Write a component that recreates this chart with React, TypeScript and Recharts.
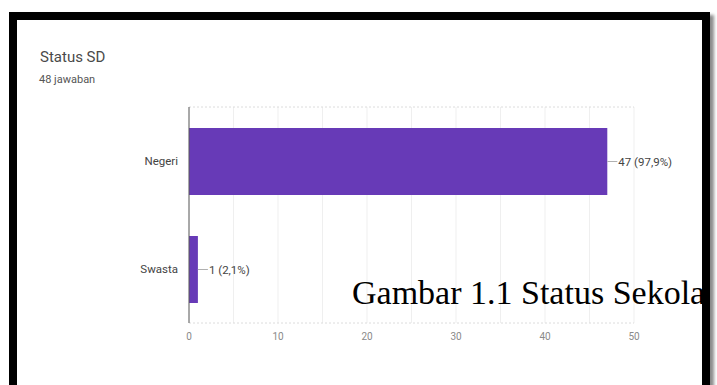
import React from 'react';
import { BarChart, Bar, XAxis, YAxis, CartesianGrid, LabelList } from 'recharts';

const categories = ['Negeri', 'Swasta'];
const counts = [47, 1];
const xTicks = [0, 5, 10, 15, 20, 25, 30, 35, 40, 45, 50];

const total = counts.reduce((a, b) => a + b, 0);
const data = categories.map((name, i) => ({ name, count: counts[i] }));

// percentage with a decimal comma, e.g. 97,9
const pct = (v: number) => ((v / total) * 100).toFixed(1).replace('.', ',');

const FONT = 'Roboto, Arial, sans-serif';

function ValueLabel(props: any) {
  const { x, y, width, height, value } = props;
  const x0 = x + width;
  const cy = y + height / 2;
  return (
    <g>
      <line x1={x0} y1={cy} x2={x0 + 10} y2={cy} stroke="#b0b0b0" />
      <text x={x0 + 11} y={cy} dy="0.36em" fill="#444" fontSize={11.5} fontFamily={FONT}>
        {`${value} (${pct(value)}%)`}
      </text>
    </g>
  );
}

// only every other grid position carries a label
function XTick({ x, y, payload }: any) {
  if (payload.value % 10 !== 0) return <g />;
  return (
    <text x={x} y={y} dy="0.71em" textAnchor="middle" fill="#8a8a8a" fontSize={10} fontFamily={FONT}>
      {payload.value}
    </text>
  );
}

export default function App() {
  return (
    <div style={{ position: 'absolute', left: 0, top: 0, width: 717, height: 385, overflow: 'hidden', background: '#fff' }}>
      <div style={{ position: 'absolute', left: 40, top: 50, fontFamily: FONT, fontSize: 15, lineHeight: '15px', color: '#4a4a4a' }}>
        Status SD
      </div>
      <div style={{ position: 'absolute', left: 39, top: 74, fontFamily: FONT, fontSize: 11, lineHeight: '11px', color: '#555' }}>
        48 jawaban
      </div>

      <div style={{ position: 'absolute', left: 0, top: 0 }}>
        <BarChart
          width={717}
          height={385}
          data={data}
          layout="vertical"
          margin={{ top: 107, right: 83, left: 0, bottom: 32 }}
        >
          <CartesianGrid vertical horizontal={false} stroke="#efefef" />
          <CartesianGrid
            vertical={false}
            stroke="#dcdcdc"
            strokeDasharray="2 2"
            horizontalCoordinatesGenerator={({ offset }: any) => [offset.top, offset.top + offset.height]}
          />
          <XAxis
            type="number"
            domain={[0, 50]}
            ticks={xTicks}
            axisLine={false}
            tickLine={false}
            tickSize={0}
            tickMargin={10}
            height={30}
            tick={<XTick />}
          />
          <YAxis
            type="category"
            dataKey="name"
            width={189}
            tickSize={0}
            tickMargin={11}
            tickLine={false}
            axisLine={{ stroke: '#5a5a5a' }}
            tick={{ fill: '#444', fontSize: 11.5, fontFamily: FONT }}
          />
          <Bar dataKey="count" fill="#673ab7" barSize={67} isAnimationActive={false}>
            <LabelList dataKey="count" content={<ValueLabel />} />
          </Bar>
        </BarChart>
      </div>

      {/* figure caption, running under the frame's right edge */}
      <div style={{ position: 'absolute', left: 0, top: 0, width: 702, height: 385, overflow: 'hidden' }}>
        <div
          style={{
            position: 'absolute',
            left: 352,
            top: 276,
            fontFamily: '"Liberation Serif", "Times New Roman", serif',
            fontSize: 34,
            lineHeight: '34px',
            color: '#000',
            whiteSpace: 'nowrap',
          }}
        >
          Gambar 1.1 Status Sekolah
        </div>
      </div>

      <div
        style={{
          position: 'absolute',
          left: 9,
          top: 12,
          width: 685,
          height: 400,
          borderTop: '8px solid #000',
          borderLeft: '8px solid #000',
          borderRight: '8px solid #000',
          boxShadow: '5px 2px 3px -1px rgba(0,0,0,0.45)',
        }}
      />
    </div>
  );
}
